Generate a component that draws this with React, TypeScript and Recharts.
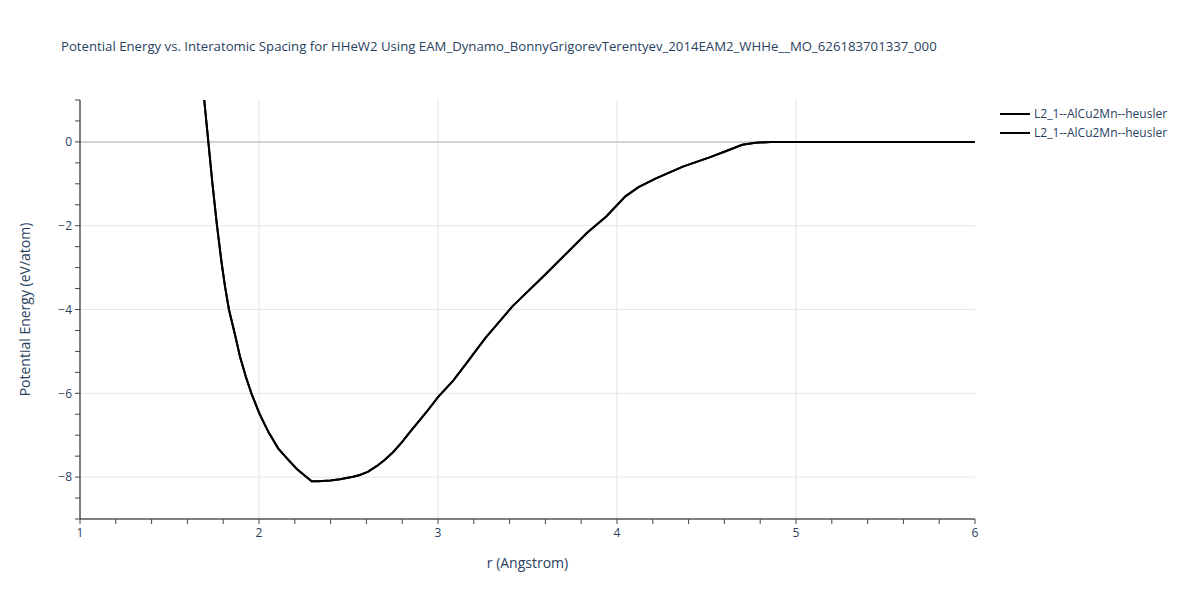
import { LineChart, Line, XAxis, YAxis, ReferenceLine, Legend } from 'recharts';

// r (Angstrom) and potential energy (eV/atom)
const rValues = [
  1.6, 1.65, 1.694, 1.717, 1.74, 1.764, 1.79, 1.81, 1.832, 1.866, 1.894, 1.927, 1.959, 2.002,
  2.052, 2.108, 2.16, 2.21, 2.26, 2.294, 2.33, 2.4, 2.453, 2.525, 2.564, 2.61, 2.657, 2.7, 2.75,
  2.8, 2.844, 2.89, 2.937, 3.0, 3.086, 3.17, 3.263, 3.417, 3.598, 3.72, 3.833, 3.94, 4.047,
  4.12, 4.218, 4.368, 4.517, 4.603, 4.7, 4.774, 4.86, 5.0, 5.5, 6.0,
];
const energyValues = [
  5.5, 2.9, 1.0, 0.0, -1.0, -1.95, -2.85, -3.45, -4.0, -4.6, -5.13, -5.61, -6.02, -6.48,
  -6.92, -7.32, -7.57, -7.8, -7.98, -8.1, -8.1, -8.08, -8.05, -7.99, -7.95, -7.87, -7.74, -7.6, -7.4,
  -7.16, -6.92, -6.68, -6.44, -6.09, -5.69, -5.22, -4.69, -3.92, -3.17, -2.65, -2.17, -1.78, -1.3,
  -1.08, -0.87, -0.59, -0.37, -0.23, -0.07, -0.02, 0.0, 0.0, 0.0, 0.0,
];

const seriesNames = ['L2_1--AlCu2Mn--heusler', 'L2_1--AlCu2Mn--heusler'];

const xTicks = [
  1, 1.2, 1.4, 1.6, 1.8, 2, 2.2, 2.4, 2.6, 2.8, 3, 3.2, 3.4, 3.6, 3.8, 4, 4.2, 4.4, 4.6, 4.8,
  5, 5.2, 5.4, 5.6, 5.8, 6,
];
const xLabelTicks = [1, 2, 3, 4, 5, 6];
const yTicks = [1, 0.5, 0, -0.5, -1, -1.5, -2, -2.5, -3, -3.5, -4, -4.5, -5, -5.5, -6, -6.5, -7, -7.5, -8, -8.5, -9];
const yLabelTicks = [0, -2, -4, -6, -8];
const xGrid = [2, 3, 4, 5];
const yGrid = [-2, -4, -6, -8];

const title =
  'Potential Energy vs. Interatomic Spacing for HHeW2 Using EAM_Dynamo_BonnyGrigorevTerentyev_2014EAM2_WHHe__MO_626183701337_000';

const FONT = '"Open Sans", "DejaVu Sans", Arial, sans-serif';
const TEXT = '#2a3f5f';

const data = rValues.map((r, i) => ({ r, e1: energyValues[i], e2: energyValues[i] }));

const fmtX = (v: number) => (xLabelTicks.includes(v) ? String(v) : '');
const fmtY = (v: number) => (yLabelTicks.includes(v) ? (v < 0 ? `\u2212${Math.abs(v)}` : String(v)) : '');

function LegendContent({ payload }: any) {
  return (
    <div style={{ fontFamily: FONT, fontSize: 12, color: TEXT }}>
      {(payload || []).map((p: any, i: number) => (
        <div key={i} style={{ display: 'flex', alignItems: 'center', height: 19 }}>
          <svg width={38} height={10}>
            <line x1={4} y1={5} x2={34} y2={5} stroke={p.color} strokeWidth={2} />
          </svg>
          <span>{p.value}</span>
        </div>
      ))}
    </div>
  );
}

export default function App() {
  return (
    <div style={{ position: 'absolute', left: 0, top: 0, width: 1200, height: 600, background: '#fff' }}>
      <div
        style={{
          position: 'absolute',
          left: 61,
          top: 37,
          fontFamily: FONT,
          fontSize: 13.2,
          color: TEXT,
          whiteSpace: 'nowrap',
        }}
      >
        {title}
      </div>
      <LineChart width={1200} height={600} data={data} margin={{ top: 100, right: 25, left: 0, bottom: 21 }}>
        {xGrid.map(x => (
          <ReferenceLine key={`x${x}`} x={x} stroke="#e2e2e2" strokeWidth={1} />
        ))}
        {yGrid.map(y => (
          <ReferenceLine key={`y${y}`} y={y} stroke="#e6e6e6" strokeWidth={1} />
        ))}
        <ReferenceLine y={0} stroke="#d2d2d2" strokeWidth={2} />
        <XAxis
          dataKey="r"
          type="number"
          domain={[1, 6]}
          ticks={xTicks}
          interval={0}
          tickFormatter={fmtX}
          height={60}
          tickSize={5}
          tickMargin={4}
          axisLine={{ stroke: '#000', strokeWidth: 1 }}
          tickLine={{ stroke: '#444' }}
          tick={{ fontSize: 12, fill: TEXT, fontFamily: FONT }}
          label={{
            value: 'r (Angstrom)',
            position: 'insideBottom',
            offset: 11,
            style: { fontSize: 14, fill: TEXT, fontFamily: FONT },
          }}
        />
        <YAxis
          type="number"
          domain={[-9, 1]}
          allowDataOverflow
          ticks={yTicks}
          interval={0}
          tickFormatter={fmtY}
          width={80}
          tickSize={5}
          tickMargin={3}
          axisLine={{ stroke: '#000', strokeWidth: 1 }}
          tickLine={{ stroke: '#444' }}
          tick={{ fontSize: 12, fill: TEXT, fontFamily: FONT }}
          label={{
            value: 'Potential Energy (eV/atom)',
            angle: -90,
            position: 'insideLeft',
            offset: 25,
            style: { fontSize: 14, fill: TEXT, fontFamily: FONT, textAnchor: 'middle' },
          }}
        />
        <Legend
          layout="vertical"
          align="right"
          verticalAlign="top"
          content={<LegendContent />}
          wrapperStyle={{ top: 104, left: 996, right: 'auto', width: 200 }}
        />
        <Line
          type="linear"
          dataKey="e1"
          name={seriesNames[0]}
          stroke="#000"
          strokeWidth={2}
          dot={false}
          isAnimationActive={false}
        />
        <Line
          type="linear"
          dataKey="e2"
          name={seriesNames[1]}
          stroke="#000"
          strokeWidth={2}
          dot={false}
          isAnimationActive={false}
        />
      </LineChart>
    </div>
  );
}
